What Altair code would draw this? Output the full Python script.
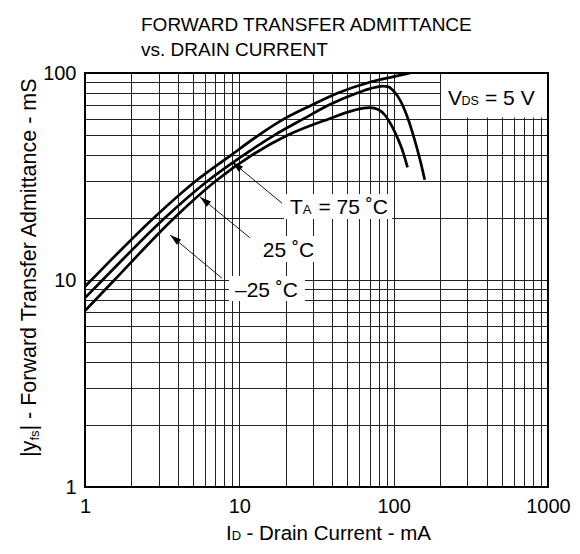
import altair as alt
import pandas as pd

FONT = "Liberation Sans"
W, H = 463, 414
NB = "\u00a0"

# ---------------- data ----------------
# drain current I_D (mA) and |yfs| (mS) for the three curves
upper_I = [1, 1.1, 2.8, 5.2, 8.8, 13.3, 19.5, 29.5, 43.5, 69, 100, 128]
upper_Y = [9.3, 10, 20, 30, 40, 50, 60, 70, 80, 90, 96, 100]

middle_I = [1, 1.3, 3.3, 6.2, 10.6, 16.8, 26, 38, 58, 72, 85, 93, 101, 110, 121, 132, 142, 151, 159]
middle_Y = [8.2, 10, 20, 30, 40, 50, 60, 70, 80, 84.5, 86.5, 85.5, 81, 74, 63, 52, 43, 36, 30.5]

lower_I = [1, 1.55, 3.8, 7.0, 12.0, 20.5, 38, 55, 70, 80, 88, 96, 106, 115, 123]
lower_Y = [7.1, 10, 20, 30, 40, 50, 60, 66, 68, 66.5, 62.5, 56.5, 48.5, 41.5, 35]

# axis ticks (grid) and labelled decades
x_ticks = [1, 2, 3, 4, 5, 6, 7, 8, 9, 10, 20, 30, 40, 50, 60, 70, 80, 90,
           100, 200, 300, 400, 500, 600, 700, 800, 900, 1000]
y_ticks = [1, 2, 3, 4, 5, 6, 7, 8, 9, 10, 20, 30, 40, 50, 60, 70, 80, 90, 100]

# annotation arrows (label end -> tip), in data units
arrow_id = ["75", "75", "25", "25", "m25", "m25"]
arrow_I = [18.9, 8.97, 11.7, 5.56, 7.72, 3.56]
arrow_Y = [23.5, 37.2, 16.0, 25.2, 10.2, 16.5]
tip_I = [8.97, 5.56, 3.56]
tip_Y = [37.2, 25.2, 16.5]

# white label backgrounds (I1, I2, Y1, Y2)
box_I1 = [19.5, 13.2, 8.57, 203]
box_I2 = [97.5, 32.3, 26.6, 1000]
box_Y1 = [19.7, 12.2, 7.92, 61]
box_Y2 = [26.0, 16.3, 10.45, 100]

# label anchors (data units)
lab_ta = (21.3, 20.8)
lab_25 = (14.2, 12.9)
lab_m25 = (9.37, 8.28)
lab_vds = (225, 70)

# ---------------- frames ----------------
rows = []
for name, xs_, ys_ in [("upper", upper_I, upper_Y), ("middle", middle_I, middle_Y), ("lower", lower_I, lower_Y)]:
    for i, (a, b) in enumerate(zip(xs_, ys_)):
        rows.append({"series": name, "I": a, "Y": b, "o": i})
curves_df = pd.DataFrame(rows)
arrows_df = pd.DataFrame({"id": arrow_id, "I": arrow_I, "Y": arrow_Y})
tips_df = pd.DataFrame({"I": tip_I, "Y": tip_Y})
boxes_df = pd.DataFrame({"I1": box_I1, "I2": box_I2, "Y1": box_Y1, "Y2": box_Y2})
one = pd.DataFrame({"k": [0]})

xs = alt.Scale(type="log", domain=[1, 1000])
ys = alt.Scale(type="log", domain=[1, 100])

lab_expr = "datum.value == 1 || datum.value == 10 || datum.value == 100 || datum.value == 1000 ? datum.label : ''"

x_axis = alt.Axis(values=x_ticks, format="d", labelExpr=lab_expr, grid=True, gridColor="#222",
                  gridWidth=1, tickSize=0, domain=False, labelFontSize=20, labelFont=FONT,
                  labelColor="black", labelPadding=9, labelFlush=False, labelOverlap=False, title=None)
y_axis = alt.Axis(values=y_ticks, format="d", labelExpr=lab_expr, grid=True, gridColor="#222",
                  gridWidth=1, tickSize=0, domain=False, labelFontSize=20, labelFont=FONT,
                  labelColor="black", labelPadding=9, labelOverlap=False, title=None)

X = lambda f: alt.X(f + ":Q", scale=xs, axis=x_axis)
Y = lambda f: alt.Y(f + ":Q", scale=ys, axis=y_axis)

boxes = alt.Chart(boxes_df).mark_rect(color="white").encode(
    x=X("I1"), x2="I2:Q", y=Y("Y1"), y2="Y2:Q")

curves = alt.Chart(curves_df).mark_line(color="black", strokeWidth=2.7, interpolate="monotone", clip=True).encode(
    x=X("I"), y=Y("Y"), detail="series:N", order="o:Q")

arrows = alt.Chart(arrows_df).mark_line(color="black", strokeWidth=0.9).encode(
    x=X("I"), y=Y("Y"), detail="id:N")

heads = alt.Chart(tips_df).mark_point(shape="M0,0L-0.6,2L0.6,2Z", filled=True, color="black",
                                      opacity=1, size=130, angle=309, strokeWidth=0).encode(
    x=X("I"), y=Y("Y"))


def data_text(anchor, parts):
    df = pd.DataFrame({"I": [anchor[0]], "Y": [anchor[1]]})
    out = []
    for s, size, dx, dy in parts:
        out.append(alt.Chart(df).mark_text(text=s, fontSize=size, font=FONT, align="left",
                                           baseline="alphabetic", dx=dx, dy=dy, color="black").encode(
            x=X("I"), y=Y("Y")))
    return out


def px_text(x, y, parts, angle=0):
    out = []
    for s, size, dx, dy in parts:
        kw = dict(text=s, fontSize=size, font=FONT, align="left", baseline="alphabetic",
                  dx=dx, dy=dy, color="black")
        if angle:
            kw["angle"] = angle
        out.append(alt.Chart(one).mark_text(**kw).encode(x=alt.value(x), y=alt.value(y)))
    return out


texts = []
texts += data_text(lab_ta, [("T", 21, 0, 0), ("A", 13, 12.8, 0), ("=" + NB + "75" + NB + "˚C", 21, 28.5, 0)])
texts += data_text(lab_25, [("25" + NB + "˚C", 21, 0, 0)])
texts += data_text(lab_m25, [("–25" + NB + "˚C", 21, 0, 0)])
texts += data_text(lab_vds, [("V", 21, 0, 0), ("DS", 12.5, 13.5, 0), ("=" + NB + "5" + NB + "V", 21, 37, 0)])

# chart title and axis titles (with subscripts)
texts += px_text(56, -42, [("FORWARD TRANSFER ADMITTANCE", 19, 0, 0)])
texts += px_text(56, -17, [("vs. DRAIN CURRENT", 19, 0, 0)])
texts += px_text(141, 467, [("I", 20.5, 0, 0), ("D", 13, 5.7, 0), ("-" + NB + "Drain Current - mA", 20.5, 20.5, 0)])
texts += px_text(-49, 384, [("|y", 21.5, 0, 0), ("fs", 13, 16.5, 3), ("|" + NB + "-" + NB + "Forward Transfer Admittance - mS", 21.5, 26.5, 0)], angle=270)

frame = alt.Chart(one).mark_rect(filled=False, stroke="black", strokeWidth=2).encode(
    x=alt.value(0), x2=alt.value(W), y=alt.value(0), y2=alt.value(H))

chart = alt.layer(boxes, curves, arrows, heads, *texts, frame).properties(
    width=W, height=H,
    autosize=alt.AutoSizeParams(type="none"),
    padding={"left": 77, "top": 65, "right": 24, "bottom": 59},
).configure_view(stroke=None).configure(background="white")

chart.save("out.html", embed_options={"renderer": "svg", "actions": False})
